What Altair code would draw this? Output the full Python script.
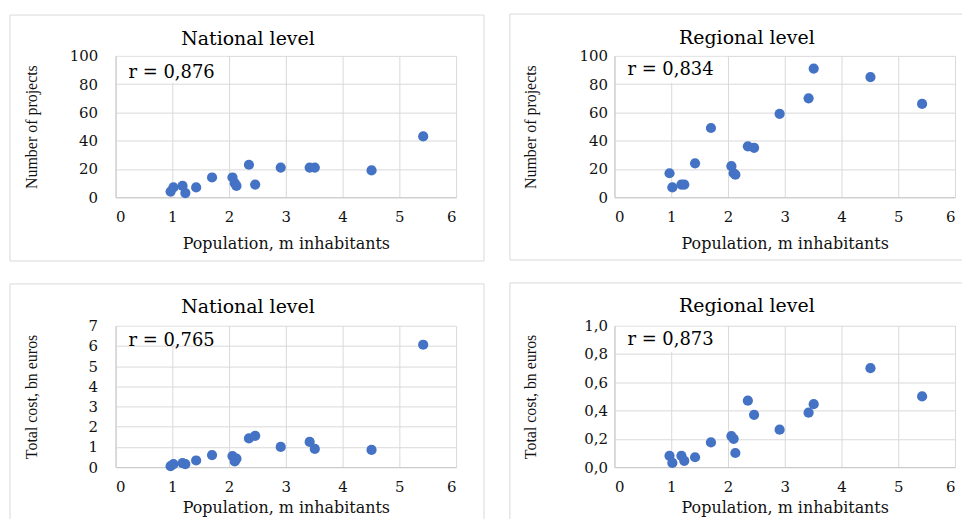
import altair as alt
import pandas as pd

# ---- data ----
population = [0.97, 1.02, 1.18, 1.23, 1.42, 1.70, 2.06, 2.10, 2.13, 2.35, 2.46, 2.91, 3.42, 3.51, 4.51, 5.42]
national_projects = [4, 7, 8, 3, 7, 14, 14, 10, 8, 23, 9, 21, 21, 21, 19, 43]
regional_projects = [17, 7, 9, 9, 24, 49, 22, 17, 16, 36, 35, 59, 70, 91, 85, 66]
national_cost = [0.05, 0.15, 0.20, 0.15, 0.33, 0.60, 0.55, 0.28, 0.42, 1.42, 1.55, 1.00, 1.25, 0.90, 0.85, 6.06]
regional_cost = [0.08, 0.03, 0.08, 0.045, 0.07, 0.175, 0.22, 0.20, 0.10, 0.47, 0.37, 0.265, 0.385, 0.445, 0.70, 0.50]

x_ticks = [0, 1, 2, 3, 4, 5, 6]
projects_ticks = [0, 20, 40, 60, 80, 100]
nat_cost_ticks = [0, 1, 2, 3, 4, 5, 6, 7]
reg_cost_ticks = [0.0, 0.2, 0.4, 0.6, 0.8, 1.0]

panel_titles = ["National level", "Regional level", "National level", "Regional level"]
r_labels = ["r = 0,876", "r = 0,834", "r = 0,765", "r = 0,873"]
x_title = "Population, m inhabitants"
y_titles = ["Number of projects", "Number of projects", "Total cost, bn euros", "Total cost, bn euros"]

W, H = 342, 142
SERIF_W = "DejaVu Serif"
SERIF = "Liberation Serif"
GRID = "#d9d9d9"


def panel(yvals, ydomain, yticks, ytitle, title, rtext, rbase, ylabpad,
          box_h, frame, title_base, xtitle_y, label_expr=None):
    df = pd.DataFrame({"pop": population, "val": yvals})
    one = alt.Data(values=[{"k": 1}])

    xaxis = alt.Axis(values=x_ticks, title=x_title, ticks=False, tickSize=0,
                     labelPadding=12, titleY=xtitle_y, titleBaseline="middle",
                     titleFont=SERIF_W, titleFontSize=16, titleFontWeight="normal",
                     labelFont=SERIF_W, labelFontSize=15)
    yargs = dict(values=yticks, title=ytitle, ticks=False, tickSize=0,
                 labelPadding=ylabpad, titleX=-84, titleY=H / 2, titleAngle=-90,
                 titleBaseline="middle", titleAlign="center",
                 titleFont=SERIF, titleFontSize=16, titleFontWeight="normal",
                 labelFont=SERIF_W, labelFontSize=15, labelBaseline="middle")
    if label_expr:
        yargs["labelExpr"] = label_expr
    yaxis = alt.Axis(**yargs)

    fx1, fx2, fy1, fy2 = frame
    frame_mark = alt.Chart(one).mark_rect(
        fillOpacity=0, stroke=GRID, strokeWidth=1
    ).encode(x=alt.value(fx1), x2=alt.value(fx2), y=alt.value(fy1), y2=alt.value(fy2))

    box = alt.Chart(one).mark_rect(fill="white", stroke=None).encode(
        x=alt.value(2), x2=alt.value(112), y=alt.value(1), y2=alt.value(box_h))

    points = alt.Chart(df).mark_circle(size=105, color="#4472C4", opacity=1).encode(
        x=alt.X("pop:Q", scale=alt.Scale(domain=[0, 6], nice=False), axis=xaxis),
        y=alt.Y("val:Q", scale=alt.Scale(domain=ydomain, nice=False), axis=yaxis),
    )

    rt = alt.Chart(one).mark_text(
        align="left", baseline="alphabetic", font=SERIF_W, fontSize=18, color="#000"
    ).encode(x=alt.value(13), y=alt.value(rbase), text=alt.value(rtext))

    tt = alt.Chart(one).mark_text(
        align="center", baseline="alphabetic", font=SERIF_W, fontSize=19, color="#000"
    ).encode(x=alt.value(133), y=alt.value(title_base), text=alt.value(title))

    return alt.layer(frame_mark, box, points, rt, tt).properties(width=W, height=H)


comma = "replace(format(datum.value, '.1f'), '.', ',')"

# frames: (left, right, top, bottom) relative to each plot's top-left corner
p1 = panel(national_projects, [0, 100], projects_ticks, y_titles[0], panel_titles[0],
           r_labels[0], 22, 18, 27, (-106, 370, -41, 206), -11, 46)
p2 = panel(regional_projects, [0, 100], projects_ticks, y_titles[1], panel_titles[1],
           r_labels[1], 19, 7, 27, (-105, 376, -42, 205), -12, 46)
p3 = panel(national_cost, [0, 7], nat_cost_ticks, y_titles[2], panel_titles[2],
           r_labels[2], 20, 18, 19, (-106, 370, -42, 219), -13, 41)
p4 = panel(regional_cost, [0, 1], reg_cost_ticks, y_titles[3], panel_titles[3],
           r_labels[3], 19, 7, 26, (-105, 376, -43, 218), -14, 41, comma)

top = alt.hconcat(p1, p2, spacing=24)
bottom = alt.hconcat(p3, p4, spacing=24)

chart = alt.vconcat(top, bottom, spacing=20).properties(
    padding={"left": 1, "top": 4, "right": -28, "bottom": -27},
    background="white",
).configure_view(stroke=None).configure_axis(
    gridColor=GRID, gridWidth=1, domainColor="#c8c8c8", domainWidth=1,
    labelColor="#111", titleColor="#111",
)

chart.save("out.html", embed_options={"renderer": "svg", "actions": False})
